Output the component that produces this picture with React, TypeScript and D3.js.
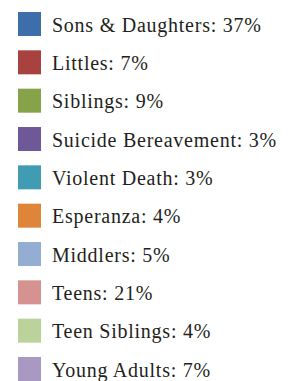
import React from "react";
import * as d3 from "d3";

const categories = ["Sons & Daughters", "Littles", "Siblings", "Suicide Bereavement", "Violent Death", "Esperanza", "Middlers", "Teens", "Teen Siblings", "Young Adults"];
const percents = [37, 7, 9, 3, 3, 4, 5, 21, 4, 7];
const colors = ["#3E6EAA", "#A8423F", "#87A34A", "#6E5897", "#409CB3", "#DF853A", "#93ADD3", "#D59291", "#BBD39B", "#A898C2"];

export default function App() {
  const W = 294, H = 381;
  const y = d3.scalePoint<string>().domain(categories).range([12, 357]);
  return (
    <svg width={W} height={H} style={{ position: "absolute", left: 0, top: 0, background: "#fff" }}>
      {categories.map((c, i) => (
        <g key={c} transform={`translate(0,${y(c)})`}>
          <rect x={18} y={0} width={23} height={24} fill={colors[i]} />
          <text x={52} y={19.5} fontFamily="Liberation Serif, serif" fontSize={20} letterSpacing={0.75} fill="#231F20">
            {`${c}: ${percents[i]}%`}
          </text>
        </g>
      ))}
    </svg>
  );
}
